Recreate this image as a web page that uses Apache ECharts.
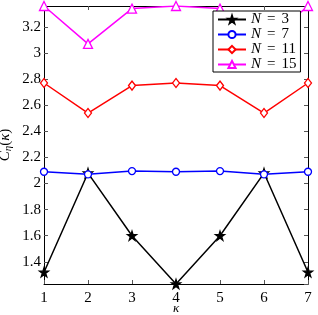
<!DOCTYPE html>
<html><head><meta charset="utf-8">
<script src="https://cdn.jsdelivr.net/npm/echarts@6/dist/echarts.min.js"></script>
<style>html,body{margin:0;padding:0;background:#fff}#c{width:318px;height:315px}</style>
</head><body><div id="c"></div>
<script>
const kappa = [1, 2, 3, 4, 5, 6, 7];
const n3 = [1.32, 2.08, 1.60, 1.23, 1.60, 2.08, 1.32];
const n7 = [2.09, 2.07, 2.095, 2.09, 2.095, 2.07, 2.09];
const n11 = [2.77, 2.54, 2.75, 2.77, 2.75, 2.54, 2.77];
const n15 = [3.36, 3.07, 3.34, 3.36, 3.34, 3.07, 3.36];
const names = ['N = 3', 'N = 7', 'N = 11', 'N = 15'];
const yTicks = [1.4, 1.6, 1.8, 2, 2.2, 2.4, 2.6, 2.8, 3, 3.2];
const yMin = 1.23, yMax = 3.36;

const star = 'path://M50,0 L61.8,36.2 L100,36.2 L69.1,58.8 L80.9,95.1 L50,72.7 L19.1,95.1 L30.9,58.8 L0,36.2 L38.2,36.2 Z';
const serif = 'Liberation Serif';
const chart = echarts.init(document.getElementById('c'), null, {renderer: 'canvas'});
function mk(name, data, color, symbol, size, fill) {
  return {
    name: name, type: 'line', data: data.map((v, i) => [kappa[i], v]),
    symbol: symbol, symbolSize: size, showSymbol: true,
    lineStyle: {color: color, width: 1.5},
    itemStyle: {color: fill ? color : '#fff', borderColor: color, borderWidth: 1.3},
    emphasis: {disabled: true}, z: 3
  };
}
const axisCommon = {
  axisLine: {show: true, lineStyle: {color: '#000', width: 1}},
  axisTick: {show: true, inside: true, length: 4, lineStyle: {color: '#555'}},
  splitLine: {show: false}
};
chart.setOption({
  animation: false,
  grid: {left: 44, right: 10, top: 6, bottom: 31, containLabel: false, outerBoundsMode: 'none'},
  legend: {
    data: names, left: 213, top: 11, orient: 'vertical',
    itemWidth: 28, itemHeight: 9, itemGap: 0,
    padding: [1, 4, 0, 4], backgroundColor: '#fff', borderColor: '#000', borderWidth: 1,
    formatter: function (n) { const p = n.split(' = '); return '{i|' + p[0] + '}{e|=}' + p[1]; },
    textStyle: {fontFamily: serif, fontSize: 15, lineHeight: 12, color: '#000',
      rich: {i: {fontFamily: serif, fontStyle: 'italic', fontSize: 15, lineHeight: 12},
             e: {fontFamily: serif, fontSize: 15, lineHeight: 12, padding: [0, 6, 0, 6]}}}
  },
  xAxis: [
    Object.assign({type: 'value', min: 1, max: 7, interval: 1, position: 'bottom',
      name: 'κ', nameLocation: 'middle', nameGap: 18, nameMoveOverlap: false,
      nameTextStyle: {fontFamily: serif, fontStyle: 'italic', fontSize: 13, color: '#000'},
      axisLabel: {fontFamily: serif, fontSize: 15, color: '#000', margin: 7}}, axisCommon),
    Object.assign({type: 'value', min: 1, max: 7, interval: 1, position: 'top',
      axisLabel: {show: false}}, axisCommon)
  ],
  yAxis: [
    Object.assign({type: 'value', min: yMin, max: yMax, splitNumber: 10, position: 'left',
      name: '{c|C}{s|η}{p|(}{k|κ}{p|)}', nameLocation: 'middle', nameGap: 30, nameMoveOverlap: false,
      nameTextStyle: {rich: {
        c: {fontFamily: serif, fontStyle: 'italic', fontSize: 15, color: '#000'},
        s: {fontFamily: serif, fontStyle: 'italic', fontSize: 11, color: '#000', padding: [7, 0, 0, 0]},
        p: {fontFamily: serif, fontSize: 15, color: '#000'},
        k: {fontFamily: serif, fontStyle: 'italic', fontSize: 15, color: '#000'}
      }},
      axisLabel: {fontFamily: serif, fontSize: 15, color: '#000', margin: 3,
        showMinLabel: false, showMaxLabel: false,
        formatter: function (v) {
          const t = yTicks.find(x => Math.abs(x - v) < 1e-6);
          return t === undefined ? '' : String(t);
        }}}, axisCommon),
    Object.assign({type: 'value', min: yMin, max: yMax, splitNumber: 10, position: 'right',
      axisLabel: {show: false}}, axisCommon)
  ],
  series: [
    mk(names[0], n3, '#000', star, 9, true),
    mk(names[1], n7, '#0000ff', 'circle', 7, false),
    mk(names[2], n11, '#ff0000', 'diamond', [7, 9], false),
    mk(names[3], n15, '#ff00ff', 'triangle', 9, false)
  ]
});
</script></body></html>
